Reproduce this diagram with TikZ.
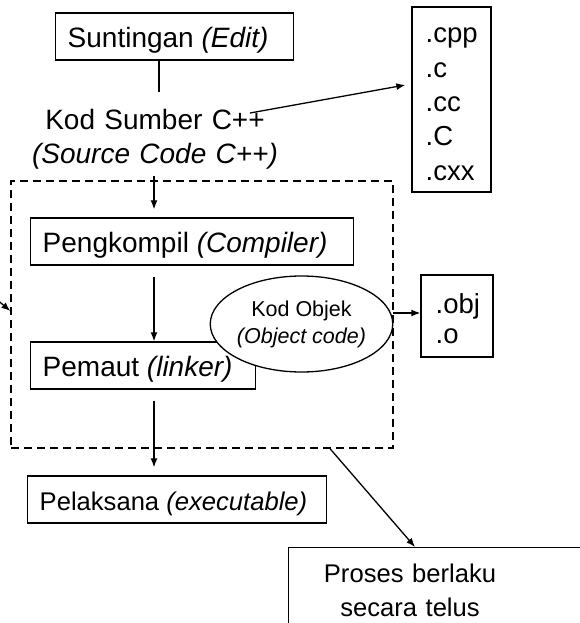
\documentclass[tikz,border=0pt]{standalone}
\usepackage{fontspec}
\setmainfont{Liberation Sans}
\usetikzlibrary{shapes.geometric,arrows.meta}
\newcommand\lfbox[2]{\makebox[#1][l]{#2}}
\begin{document}
\begin{tikzpicture}[x=1pt,y=-1pt,
  line width=1.3pt,
  arr/.style={-{Latex[length=9pt,width=7pt]}, line width=1.3pt},
  stage/.style={draw, line width=1.4pt, anchor=west, minimum height=47pt,
    inner xsep=12pt, inner ysep=0pt, text height=22pt, text depth=0pt,
    font=\fontsize{28}{34}\selectfont},
  filebox/.style={draw, line width=1.4pt, inner sep=0pt},
  listtext/.style={align=left, anchor=base west, inner sep=0pt, text width=60pt},
  plaintext/.style={align=center, anchor=base, inner sep=0pt}]
\useasboundingbox (0,0) rectangle (580,623);
\clip (0,0) rectangle (580,623);

% dashed group
\node[draw, dash pattern=on 8pt off 5pt, line width=1.3pt, minimum width=382pt,
  minimum height=267pt, inner sep=0pt] (grp) at (202,314.5) {};

% stages
\node[stage] (edit) at (55,36.5) {\lfbox{214pt}{Suntingan \textit{(Edit)}}};
\node[plaintext, text width=260pt, font=\fontsize{28}{34}\selectfont] (src) at (155,129)
  {Kod Sumber C++\\\textit{(Source Code C++)}};
\node[stage] (compiler) at (30,241.5) {\lfbox{299pt}{Pengkompil \textit{(Compiler)}}};
\node[stage] (linker) at (30,365.5) {\lfbox{201pt}{Pemaut \textit{(linker)}}};
\node[stage, font=\fontsize{25.6}{34}\selectfont] (exec) at (27,499.5)
  {\lfbox{275pt}{Pelaksana \textit{(executable)}}};

% object code ellipse
\node[ellipse, draw, fill=white, line width=1.3pt, minimum width=163pt, minimum height=96pt,
  inner sep=0pt, align=center, font=\fontsize{21.5}{27}\selectfont] (ell) at (301.5,324)
  {Kod Objek\\\textit{(Object code)}};

% file extension boxes
\node[filebox, minimum width=79pt, minimum height=185pt] (cpp) at (451.5,99.5) {};
\node[listtext, font=\fontsize{27.5}{34.3}\selectfont] (cpplist) at (425,43)
  {.cpp\\.c\\.cc\\.C\\.cxx};
\node[filebox, minimum width=72pt, minimum height=82pt] (obj) at (457,316) {};
\node[listtext, font=\fontsize{27.5}{30}\selectfont] (objlist) at (435,313) {.obj\\.o};

% process box
\node[filebox, anchor=north west, minimum width=330pt, minimum height=100pt] (proc) at (288,547) {};
\node[plaintext, text width=220pt, font=\fontsize{25.6}{34}\selectfont] (proctxt) at (410,582)
  {Proses berlaku\\secara telus};

% connectors
\coordinate (srctop) at (159,92);
\draw (edit.south -| srctop) -- (srctop);
\coordinate (srcr) at (250,113);
\draw[arr] (srcr) -- ([xshift=-6pt,yshift=14.5pt]cpp.west);
\coordinate (srcb) at (154,176);
\draw[arr, shorten >=8pt] (srcb) -- (srcb |- compiler.north);
\draw[arr, shorten <=11pt] (srcb |- compiler.south) -- (srcb |- linker.north);
\draw[arr, shorten <=11pt, shorten >=8pt] (srcb |- linker.south) -- (srcb |- exec.north);
\draw[arr] ([yshift=11pt]ell.east) -- ([yshift=3pt]obj.west);
\draw[arr] ([xshift=128pt]grp.south) -- ([xshift=127pt]proc.north west);
\coordinate (lin) at (-12,292);
\draw[arr] (lin) -- ([yshift=3.5pt]grp.west);
\end{tikzpicture}
\end{document}
